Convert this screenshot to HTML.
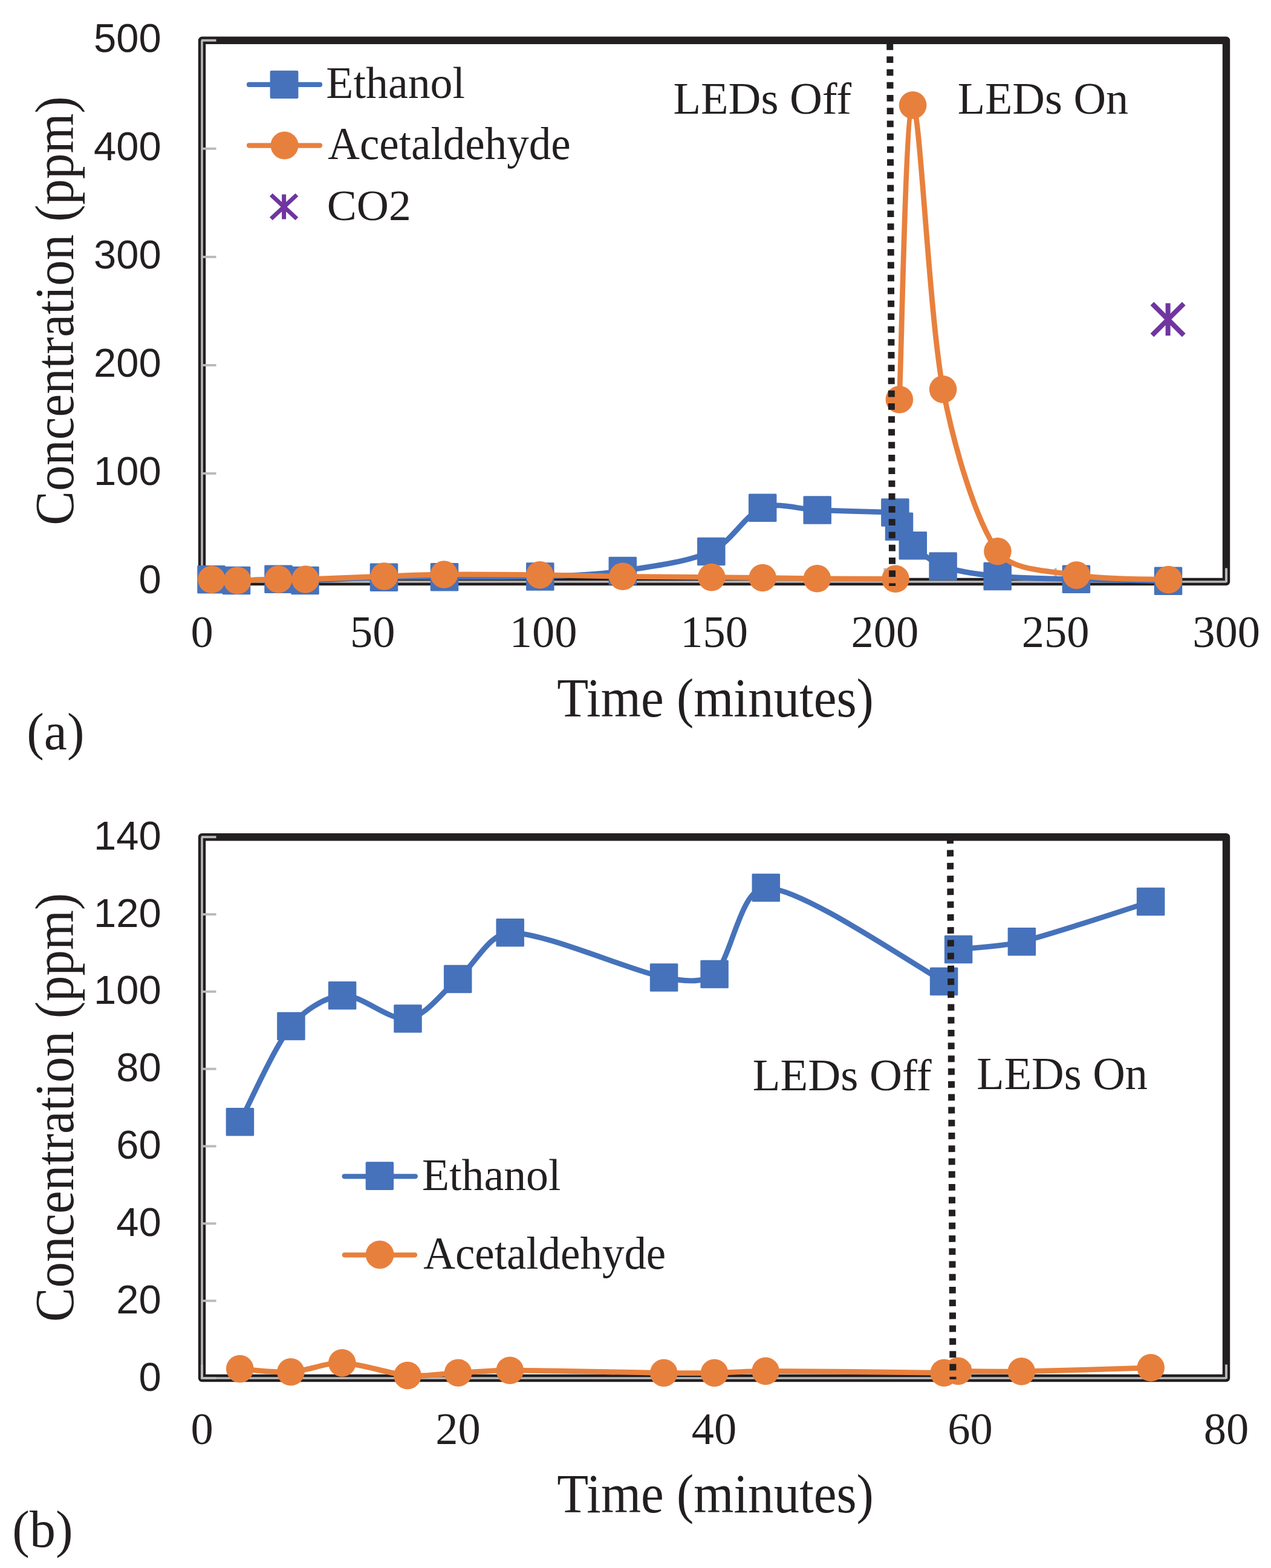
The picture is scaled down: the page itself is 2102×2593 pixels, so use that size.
<!DOCTYPE html>
<html><head><meta charset="utf-8"><title>Concentration vs Time</title><style>html,body{margin:0;padding:0;background:#fff;}svg{display:block;}</style></head><body>
<svg width="2102" height="2593" viewBox="0 0 2102 2593">
<rect width="2102" height="2593" fill="#fff"/>
<rect x="334" y="66.8" width="1694" height="895.2" fill="none" stroke="#231f20" stroke-width="12.4" stroke-linejoin="round"/><g stroke="#b9babd" stroke-width="3.5" fill="none"><path d="M334,66.8 L334,962 L2028,962"/><line x1="333" y1="962" x2="357.5" y2="962" stroke-width="3.9"/><line x1="333" y1="782.96" x2="357.5" y2="782.96" stroke-width="3.9"/><line x1="333" y1="603.92" x2="357.5" y2="603.92" stroke-width="3.9"/><line x1="333" y1="424.88" x2="357.5" y2="424.88" stroke-width="3.9"/><line x1="333" y1="245.84" x2="357.5" y2="245.84" stroke-width="3.9"/><line x1="333" y1="66.8" x2="357.5" y2="66.8" stroke-width="3.9"/><line x1="334" y1="963" x2="334" y2="939.5" stroke-width="3.9"/><line x1="616.33" y1="963" x2="616.33" y2="939.5" stroke-width="3.9"/><line x1="898.67" y1="963" x2="898.67" y2="939.5" stroke-width="3.9"/><line x1="1181" y1="963" x2="1181" y2="939.5" stroke-width="3.9"/><line x1="1463.33" y1="963" x2="1463.33" y2="939.5" stroke-width="3.9"/><line x1="1745.67" y1="963" x2="1745.67" y2="939.5" stroke-width="3.9"/><line x1="2028" y1="963" x2="2028" y2="939.5" stroke-width="3.9"/></g>
<rect x="334" y="1384.2" width="1694" height="894.8" fill="none" stroke="#231f20" stroke-width="12.4" stroke-linejoin="round"/><g stroke="#b9babd" stroke-width="3.5" fill="none"><path d="M334,1384.2 L334,2279 L2028,2279"/><line x1="333" y1="2279" x2="357.5" y2="2279" stroke-width="3.9"/><line x1="333" y1="2151.17" x2="357.5" y2="2151.17" stroke-width="3.9"/><line x1="333" y1="2023.34" x2="357.5" y2="2023.34" stroke-width="3.9"/><line x1="333" y1="1895.51" x2="357.5" y2="1895.51" stroke-width="3.9"/><line x1="333" y1="1767.69" x2="357.5" y2="1767.69" stroke-width="3.9"/><line x1="333" y1="1639.86" x2="357.5" y2="1639.86" stroke-width="3.9"/><line x1="333" y1="1512.03" x2="357.5" y2="1512.03" stroke-width="3.9"/><line x1="333" y1="1384.2" x2="357.5" y2="1384.2" stroke-width="3.9"/><line x1="334" y1="2280" x2="334" y2="2256.5" stroke-width="3.9"/><line x1="757.5" y1="2280" x2="757.5" y2="2256.5" stroke-width="3.9"/><line x1="1181" y1="2280" x2="1181" y2="2256.5" stroke-width="3.9"/><line x1="1604.5" y1="2280" x2="1604.5" y2="2256.5" stroke-width="3.9"/><line x1="2028" y1="2280" x2="2028" y2="2256.5" stroke-width="3.9"/></g>
<text transform="translate(266.6,981.3)" text-anchor="end" font-family='"Liberation Sans", Arial, sans-serif' font-size="66.90" fill="#231f20">0</text>
<text transform="translate(266.6,802.26)" text-anchor="end" font-family='"Liberation Sans", Arial, sans-serif' font-size="66.90" fill="#231f20">100</text>
<text transform="translate(266.6,623.22)" text-anchor="end" font-family='"Liberation Sans", Arial, sans-serif' font-size="66.90" fill="#231f20">200</text>
<text transform="translate(266.6,444.18)" text-anchor="end" font-family='"Liberation Sans", Arial, sans-serif' font-size="66.90" fill="#231f20">300</text>
<text transform="translate(266.6,265.14)" text-anchor="end" font-family='"Liberation Sans", Arial, sans-serif' font-size="66.90" fill="#231f20">400</text>
<text transform="translate(266.6,86.1)" text-anchor="end" font-family='"Liberation Sans", Arial, sans-serif' font-size="66.90" fill="#231f20">500</text>
<text transform="translate(266.6,2299.6)" text-anchor="end" font-family='"Liberation Sans", Arial, sans-serif' font-size="66.90" fill="#231f20">0</text>
<text transform="translate(266.6,2171.77)" text-anchor="end" font-family='"Liberation Sans", Arial, sans-serif' font-size="66.90" fill="#231f20">20</text>
<text transform="translate(266.6,2043.94)" text-anchor="end" font-family='"Liberation Sans", Arial, sans-serif' font-size="66.90" fill="#231f20">40</text>
<text transform="translate(266.6,1916.11)" text-anchor="end" font-family='"Liberation Sans", Arial, sans-serif' font-size="66.90" fill="#231f20">60</text>
<text transform="translate(266.6,1788.29)" text-anchor="end" font-family='"Liberation Sans", Arial, sans-serif' font-size="66.90" fill="#231f20">80</text>
<text transform="translate(266.6,1660.46)" text-anchor="end" font-family='"Liberation Sans", Arial, sans-serif' font-size="66.90" fill="#231f20">100</text>
<text transform="translate(266.6,1532.63)" text-anchor="end" font-family='"Liberation Sans", Arial, sans-serif' font-size="66.90" fill="#231f20">120</text>
<text transform="translate(266.6,1404.8)" text-anchor="end" font-family='"Liberation Sans", Arial, sans-serif' font-size="66.90" fill="#231f20">140</text>
<text transform="translate(334,1070)" text-anchor="middle" font-family='"Liberation Serif", "Times New Roman", serif' font-size="74.50" fill="#231f20">0</text>
<text transform="translate(616.33,1070)" text-anchor="middle" font-family='"Liberation Serif", "Times New Roman", serif' font-size="74.50" fill="#231f20">50</text>
<text transform="translate(898.67,1070)" text-anchor="middle" font-family='"Liberation Serif", "Times New Roman", serif' font-size="74.50" fill="#231f20">100</text>
<text transform="translate(1181,1070)" text-anchor="middle" font-family='"Liberation Serif", "Times New Roman", serif' font-size="74.50" fill="#231f20">150</text>
<text transform="translate(1463.33,1070)" text-anchor="middle" font-family='"Liberation Serif", "Times New Roman", serif' font-size="74.50" fill="#231f20">200</text>
<text transform="translate(1745.67,1070)" text-anchor="middle" font-family='"Liberation Serif", "Times New Roman", serif' font-size="74.50" fill="#231f20">250</text>
<text transform="translate(2028,1070)" text-anchor="middle" font-family='"Liberation Serif", "Times New Roman", serif' font-size="74.50" fill="#231f20">300</text>
<text transform="translate(334,2387.5)" text-anchor="middle" font-family='"Liberation Serif", "Times New Roman", serif' font-size="74.50" fill="#231f20">0</text>
<text transform="translate(757.5,2387.5)" text-anchor="middle" font-family='"Liberation Serif", "Times New Roman", serif' font-size="74.50" fill="#231f20">20</text>
<text transform="translate(1181,2387.5)" text-anchor="middle" font-family='"Liberation Serif", "Times New Roman", serif' font-size="74.50" fill="#231f20">40</text>
<text transform="translate(1604.5,2387.5)" text-anchor="middle" font-family='"Liberation Serif", "Times New Roman", serif' font-size="74.50" fill="#231f20">60</text>
<text transform="translate(2028,2387.5)" text-anchor="middle" font-family='"Liberation Serif", "Times New Roman", serif' font-size="74.50" fill="#231f20">80</text>
<path d="M349.5,958.3 C356.42,958.58 377.16,960.06 391,960 C409.5,959.92 441.58,957.8 460.5,957.8 C475.17,957.8 489.83,960.26 504.5,960 C533.58,959.48 596.58,955.65 635,954.7 C668.32,953.88 701.67,954.47 735,954.3 C778.05,954.08 844.17,955.12 893.3,953.4 C938.86,951.81 984.8,950.6 1029.8,944 C1076.97,937.08 1137.73,929.28 1176.3,911.9 C1209.18,897.08 1231.97,851.08 1261.2,839.7 C1287.41,829.49 1321.52,842.54 1351.7,843.6 C1388.23,844.88 1458.95,846.77 1480.4,847.4 M1487,870.8 C1490.8,876.05 1500.32,893.72 1509.8,902.3 C1521.9,913.25 1541.07,929.78 1559.6,936.5 C1582.92,944.95 1619.39,950.07 1649.7,953 C1686.42,956.55 1736.49,956.6 1779.9,957.8 C1826.95,959.1 1906.65,960.3 1932,960.8" fill="none" stroke="#4672bb" stroke-width="8.8" stroke-linejoin="round" stroke-linecap="round"/>
<rect x="326.25" y="935.05" width="46.5" height="46.5" rx="1.5" fill="#4672bb"/><rect x="367.75" y="936.75" width="46.5" height="46.5" rx="1.5" fill="#4672bb"/><rect x="437.25" y="934.55" width="46.5" height="46.5" rx="1.5" fill="#4672bb"/><rect x="481.25" y="936.75" width="46.5" height="46.5" rx="1.5" fill="#4672bb"/><rect x="611.75" y="931.45" width="46.5" height="46.5" rx="1.5" fill="#4672bb"/><rect x="711.75" y="931.05" width="46.5" height="46.5" rx="1.5" fill="#4672bb"/><rect x="870.05" y="930.15" width="46.5" height="46.5" rx="1.5" fill="#4672bb"/><rect x="1006.55" y="920.75" width="46.5" height="46.5" rx="1.5" fill="#4672bb"/><rect x="1153.05" y="888.65" width="46.5" height="46.5" rx="1.5" fill="#4672bb"/><rect x="1237.95" y="816.45" width="46.5" height="46.5" rx="1.5" fill="#4672bb"/><rect x="1328.45" y="820.35" width="46.5" height="46.5" rx="1.5" fill="#4672bb"/><rect x="1457.15" y="824.15" width="46.5" height="46.5" rx="1.5" fill="#4672bb"/><rect x="1463.75" y="847.55" width="46.5" height="46.5" rx="1.5" fill="#4672bb"/><rect x="1486.55" y="879.05" width="46.5" height="46.5" rx="1.5" fill="#4672bb"/><rect x="1536.35" y="913.25" width="46.5" height="46.5" rx="1.5" fill="#4672bb"/><rect x="1626.45" y="929.75" width="46.5" height="46.5" rx="1.5" fill="#4672bb"/><rect x="1756.65" y="934.55" width="46.5" height="46.5" rx="1.5" fill="#4672bb"/><rect x="1908.75" y="937.55" width="46.5" height="46.5" rx="1.5" fill="#4672bb"/>
<path d="M350,958.3 C357.1,958.58 378.4,960.04 392.6,960 C411,959.95 441.67,958.33 460.4,958 C475.26,957.74 490.14,958.42 505,958 C534.17,957.17 597.17,954.33 635.4,953 C668.39,951.85 701.39,950.29 734.4,950 C777.3,949.62 843.53,950.15 892.8,950.7 C938.54,951.21 984.26,952.67 1030,953.3 C1077.33,953.95 1138.27,954.23 1176.8,954.6 C1204.93,954.87 1233.07,955.15 1261.2,955.5 C1290.3,955.87 1321.33,956.55 1351.4,956.8 C1388.03,957.1 1459.4,957.22 1481,957.3 M1487.4,660.7 C1491.1,579.57 1497.57,176.7 1509.6,173.9 C1521.45,171.14 1536.22,520.92 1559.6,643.9 C1577.1,735.96 1613.1,860.6 1649.9,911.8 C1673.84,945.11 1735.91,943.73 1780.4,951.1 C1827.5,958.9 1907.15,957.35 1932.5,958.6" fill="none" stroke="#e8803d" stroke-width="8.8" stroke-linejoin="round" stroke-linecap="round"/>
<circle cx="350" cy="958.3" r="22.8" fill="#e8803d"/><circle cx="392.6" cy="960" r="22.8" fill="#e8803d"/><circle cx="460.4" cy="958" r="22.8" fill="#e8803d"/><circle cx="505" cy="958" r="22.8" fill="#e8803d"/><circle cx="635.4" cy="953" r="22.8" fill="#e8803d"/><circle cx="734.4" cy="950" r="22.8" fill="#e8803d"/><circle cx="892.8" cy="950.7" r="22.8" fill="#e8803d"/><circle cx="1030" cy="953.3" r="22.8" fill="#e8803d"/><circle cx="1176.8" cy="954.6" r="22.8" fill="#e8803d"/><circle cx="1261.2" cy="955.5" r="22.8" fill="#e8803d"/><circle cx="1351.4" cy="956.8" r="22.8" fill="#e8803d"/><circle cx="1481" cy="957.3" r="22.8" fill="#e8803d"/><circle cx="1487.4" cy="660.7" r="22.8" fill="#e8803d"/><circle cx="1509.6" cy="173.9" r="22.8" fill="#e8803d"/><circle cx="1559.6" cy="643.9" r="22.8" fill="#e8803d"/><circle cx="1649.9" cy="911.8" r="22.8" fill="#e8803d"/><circle cx="1780.4" cy="951.1" r="22.8" fill="#e8803d"/><circle cx="1932.5" cy="958.6" r="22.8" fill="#e8803d"/>
<g stroke="#7035a0" stroke-width="8.0" stroke-linecap="butt"><line x1="1905.4" y1="502.1" x2="1957.8" y2="554.3"/><line x1="1905.4" y1="554.3" x2="1957.8" y2="502.1"/><line x1="1931.6" y1="501.4" x2="1931.6" y2="555"/></g>
<path d="M396.9,1855.2 C410.98,1828.85 453.2,1731.92 481.4,1697.1 C501.44,1672.36 536.35,1648.26 566.1,1646.3 C598.28,1644.18 642.65,1688.95 674.5,1684.4 C704.98,1680.05 730.3,1641.59 757.2,1619 C785.4,1595.32 809.18,1542.56 843.7,1542.3 C900.52,1541.87 1041.78,1604.97 1098.1,1616.4 C1125.13,1621.89 1162.79,1627.46 1181.6,1610.9 C1209.72,1586.15 1224.61,1466.55 1266.8,1467.9 C1330.05,1469.92 1512.05,1597.15 1561.1,1623 M1585.1,1569.9 C1602.57,1567.78 1655.86,1565.63 1689.9,1557.2 C1742.9,1544.07 1867.57,1502.12 1903.1,1491.1" fill="none" stroke="#4672bb" stroke-width="8.8" stroke-linejoin="round" stroke-linecap="round"/>
<rect x="373.65" y="1831.95" width="46.5" height="46.5" rx="1.5" fill="#4672bb"/><rect x="458.15" y="1673.85" width="46.5" height="46.5" rx="1.5" fill="#4672bb"/><rect x="542.85" y="1623.05" width="46.5" height="46.5" rx="1.5" fill="#4672bb"/><rect x="651.25" y="1661.15" width="46.5" height="46.5" rx="1.5" fill="#4672bb"/><rect x="733.95" y="1595.75" width="46.5" height="46.5" rx="1.5" fill="#4672bb"/><rect x="820.45" y="1519.05" width="46.5" height="46.5" rx="1.5" fill="#4672bb"/><rect x="1074.85" y="1593.15" width="46.5" height="46.5" rx="1.5" fill="#4672bb"/><rect x="1158.35" y="1587.65" width="46.5" height="46.5" rx="1.5" fill="#4672bb"/><rect x="1243.55" y="1444.65" width="46.5" height="46.5" rx="1.5" fill="#4672bb"/><rect x="1537.85" y="1599.75" width="46.5" height="46.5" rx="1.5" fill="#4672bb"/><rect x="1561.85" y="1546.65" width="46.5" height="46.5" rx="1.5" fill="#4672bb"/><rect x="1666.65" y="1533.95" width="46.5" height="46.5" rx="1.5" fill="#4672bb"/><rect x="1879.85" y="1467.85" width="46.5" height="46.5" rx="1.5" fill="#4672bb"/>
<path d="M396.7,2263.6 C410.73,2264.47 453.02,2270.4 480.9,2268.8 C509.08,2267.18 537.54,2253.05 565.8,2253.9 C597.98,2254.87 642.03,2271.88 674,2274.6 C701.61,2276.95 729.73,2271.58 757.6,2270.2 C785.82,2268.8 814.71,2266.18 843.3,2266.2 C900,2266.23 1041.43,2269.7 1097.8,2270.4 C1125.7,2270.75 1153.61,2270.9 1181.5,2270.4 C1209.55,2269.9 1237.89,2267.41 1266.1,2267.4 C1329.4,2267.37 1512.1,2269.73 1561.3,2270.2 M1584.5,2267.4 C1601.97,2267.48 1654.38,2268.51 1689.3,2267.9 C1742.42,2266.97 1867.55,2262.82 1903.2,2261.8" fill="none" stroke="#e8803d" stroke-width="8.8" stroke-linejoin="round" stroke-linecap="round"/>
<circle cx="396.7" cy="2263.6" r="22.8" fill="#e8803d"/><circle cx="480.9" cy="2268.8" r="22.8" fill="#e8803d"/><circle cx="565.8" cy="2253.9" r="22.8" fill="#e8803d"/><circle cx="674" cy="2274.6" r="22.8" fill="#e8803d"/><circle cx="757.6" cy="2270.2" r="22.8" fill="#e8803d"/><circle cx="843.3" cy="2266.2" r="22.8" fill="#e8803d"/><circle cx="1097.8" cy="2270.4" r="22.8" fill="#e8803d"/><circle cx="1181.5" cy="2270.4" r="22.8" fill="#e8803d"/><circle cx="1266.1" cy="2267.4" r="22.8" fill="#e8803d"/><circle cx="1561.3" cy="2270.2" r="22.8" fill="#e8803d"/><circle cx="1584.5" cy="2267.4" r="22.8" fill="#e8803d"/><circle cx="1689.3" cy="2267.9" r="22.8" fill="#e8803d"/><circle cx="1903.2" cy="2261.8" r="22.8" fill="#e8803d"/>
<line x1="1471.7" y1="71.95" x2="1475.7" y2="969" stroke="#231f20" stroke-width="11" stroke-dasharray="10.8 10.45" stroke-linecap="butt"/>
<line x1="1571.4" y1="1384.35" x2="1576" y2="2281" stroke="#231f20" stroke-width="11" stroke-dasharray="10.8 10.45" stroke-linecap="butt"/>
<line x1="412" y1="139.9" x2="529" y2="139.9" stroke="#4672bb" stroke-width="8.2" stroke-linecap="round"/>
<rect x="446.6" y="116.7" width="46.8" height="46.4" rx="2" fill="#4672bb"/>
<line x1="412" y1="240.6" x2="529" y2="240.6" stroke="#e8803d" stroke-width="8.2" stroke-linecap="round"/>
<circle cx="470.5" cy="240.4" r="23" fill="#e8803d"/>
<g stroke="#7035a0" stroke-width="7.0" stroke-linecap="butt"><line x1="448.3" y1="322.3" x2="490.9" y2="361.7"/><line x1="448.3" y1="361.7" x2="490.9" y2="322.3"/><line x1="469.6" y1="321.5" x2="469.6" y2="362.5"/></g>
<text transform="translate(539.36,161.9) scale(0.9893,1)" font-family='"Liberation Serif", "Times New Roman", serif' font-size="74.64" fill="#231f20">Ethanol</text>
<text transform="translate(542.17,263.2) scale(0.9731,1)" font-family='"Liberation Serif", "Times New Roman", serif' font-size="75.07" fill="#231f20">Acetaldehyde</text>
<text transform="translate(540.68,364.2) scale(1.0239,1)" font-family='"Liberation Serif", "Times New Roman", serif' font-size="71.90" fill="#231f20">CO2</text>
<line x1="569.6" y1="1945.3" x2="686.8" y2="1945.3" stroke="#4672bb" stroke-width="8.2" stroke-linecap="round"/>
<rect x="604.7" y="1921.2" width="46.4" height="46.8" rx="2" fill="#4672bb"/>
<line x1="569.8" y1="2075.3" x2="686" y2="2075.3" stroke="#e8803d" stroke-width="8.2" stroke-linecap="round"/>
<circle cx="628.1" cy="2074.8" r="23.4" fill="#e8803d"/>
<text transform="translate(697.96,1968.3) scale(0.9865,1)" font-family='"Liberation Serif", "Times New Roman", serif' font-size="74.78" fill="#231f20">Ethanol</text>
<text transform="translate(700.27,2098.1) scale(0.9680,1)" font-family='"Liberation Serif", "Times New Roman", serif' font-size="75.36" fill="#231f20">Acetaldehyde</text>
<text transform="translate(1113.54,188.2) scale(1.0210,1)" font-family='"Liberation Serif", "Times New Roman", serif' font-size="73.01" fill="#231f20">LEDs Off</text>
<text transform="translate(1583.65,188.2) scale(0.9912,1)" font-family='"Liberation Serif", "Times New Roman", serif' font-size="74.92" fill="#231f20">LEDs On</text>
<text transform="translate(1244.83,1802.7) scale(1.0248,1)" font-family='"Liberation Serif", "Times New Roman", serif' font-size="73.01" fill="#231f20">LEDs Off</text>
<text transform="translate(1615.35,1800.8) scale(0.9892,1)" font-family='"Liberation Serif", "Times New Roman", serif' font-size="75.08" fill="#231f20">LEDs On</text>
<text transform="translate(921.15,1184.7) scale(0.9246,1)" text-anchor="start" font-family='"Liberation Serif", "Times New Roman", serif' font-size="92.00" fill="#231f20">Time (minutes)</text>
<text transform="translate(921.35,2501.2) scale(0.9242,1)" text-anchor="start" font-family='"Liberation Serif", "Times New Roman", serif' font-size="92.00" fill="#231f20">Time (minutes)</text>
<text transform="translate(121,868.69) rotate(-90) scale(0.9227,1)" font-family='"Liberation Serif", "Times New Roman", serif' font-size="92.0" fill="#231f20">Concentration (ppm)</text>
<text transform="translate(120.8,2185.99) rotate(-90) scale(0.9223,1)" font-family='"Liberation Serif", "Times New Roman", serif' font-size="92.0" fill="#231f20">Concentration (ppm)</text>
<text transform="translate(44.33,1238.81) scale(0.9846,1)" font-family='"Liberation Serif", "Times New Roman", serif' font-size="87.05" fill="#231f20">(a)</text>
<text transform="translate(20.32,2558.03) scale(0.9942,1)" font-family='"Liberation Serif", "Times New Roman", serif' font-size="86.50" fill="#231f20">(b)</text>
</svg>
</body></html>
